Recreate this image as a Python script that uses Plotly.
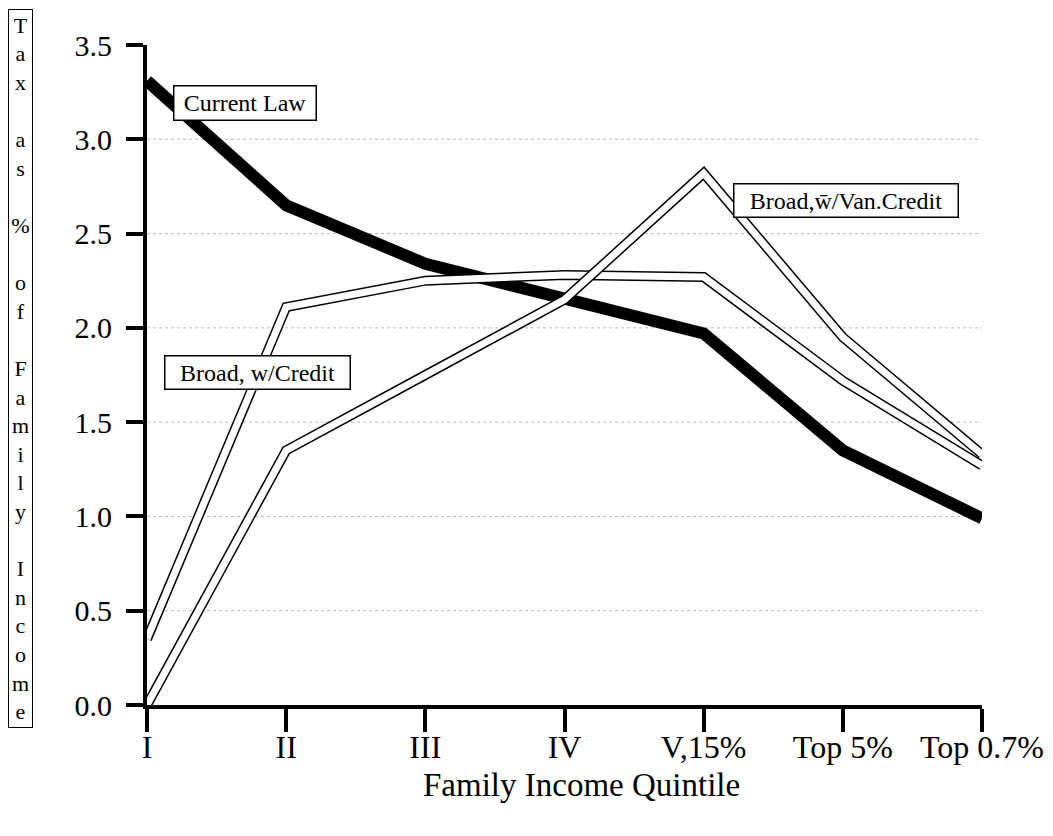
import plotly.graph_objects as go

categories = ["I", "II", "III", "IV", "V,15%", "Top 5%", "Top 0.7%"]
current_law = [3.31, 2.65, 2.34, 2.15, 1.97, 1.35, 0.99]
broad_credit = [0.35, 2.11, 2.25, 2.28, 2.27, 1.72, 1.27]
broad_van = [0.0, 1.35, 1.75, 2.15, 2.82, 1.95, 1.33]
y_ticks = [0.0, 0.5, 1.0, 1.5, 2.0, 2.5, 3.0, 3.5]
grid_vals = [0.5, 1.0, 1.5, 2.0, 2.5, 3.0]

FONT = "Liberation Serif"
OFF = 8  # default page body margin
W, H = 1053 - OFF, 836 - OFF
# plot area in screen pixels
SX0, SX1, SY0, SY1 = 147, 982, 45, 705
L, R = SX0 - OFF, W - (SX1 - OFF)
T, B = SY0 - OFF, H - (SY1 - OFF)
PW, PH = SX1 - SX0, SY1 - SY0


def px(x):
    return (x - SX0) / PW


def py(y):
    return (SY1 - y) / PH


fig = go.Figure()

fig.add_trace(go.Scatter(x=categories, y=current_law, mode="lines",
                         line=dict(color="black", width=12), hoverinfo="skip",
                         showlegend=False))
for series in (broad_credit, broad_van):
    fig.add_trace(go.Scatter(x=categories, y=series, mode="lines",
                             line=dict(color="black", width=10), hoverinfo="skip",
                             showlegend=False))
    fig.add_trace(go.Scatter(x=categories, y=series, mode="lines",
                             line=dict(color="white", width=7), hoverinfo="skip",
                             showlegend=False))

shapes = []
for g in grid_vals:
    shapes.append(dict(type="line", xref="paper", yref="y", x0=0, x1=1, y0=g, y1=g,
                       line=dict(color="#b8b8b8", width=1, dash="dot"), layer="below"))

labels = [
    ("Current Law", 244.5, 102.5, 141, 33),
    ("Broad, w/Credit", 257, 372, 184, 32),
    ("Broad,w\u0304/Van.Credit", 845.5, 200, 223, 32),
]
annotations = []
for text, cx, cy, w, h in labels:
    annotations.append(dict(text=text, xref="paper", yref="paper", x=px(cx), y=py(cy),
                            xanchor="center", yanchor="middle", showarrow=False,
                            font=dict(family=FONT, size=24, color="black"),
                            bgcolor="white", bordercolor="black", borderwidth=1.5,
                            borderpad=0, width=w, height=h))

ytitle = "Tax as % of Family Income"
ytitle_html = "<br>".join(ch if ch != " " else "\u00a0" for ch in ytitle)
annotations.append(dict(text=ytitle_html, xref="paper", yref="paper",
                        x=px(20), y=py(368.5), xanchor="center", yanchor="middle",
                        showarrow=False, font=dict(family=FONT, size=22, color="black"),
                        bgcolor="white", bordercolor="black", borderwidth=1,
                        borderpad=0, width=23, height=717, align="center"))

annotations.append(dict(text="Family Income Quintile", xref="paper", yref="paper",
                        x=px(581), y=py(785), xanchor="center", yanchor="middle",
                        showarrow=False, font=dict(family=FONT, size=33, color="black")))

fig.update_layout(
    width=W, height=H,
    margin=dict(l=L, r=R, t=T, b=B, autoexpand=False),
    paper_bgcolor="white", plot_bgcolor="white",
    font=dict(family=FONT, color="black"),
    shapes=shapes, annotations=annotations,
    hovermode=False,
    xaxis=dict(type="category", range=[0, 6], showgrid=False, zeroline=False,
               automargin=False,
               showline=True, linecolor="black", linewidth=4,
               ticks="outside", ticklen=23, tickwidth=4, tickcolor="black",
               tickfont=dict(family=FONT, size=32), ticklabelstandoff=-12),
    yaxis=dict(range=[0, 3.5], tickvals=y_ticks, tickformat=".1f",
               showgrid=False, zeroline=False, automargin=False,
               showline=True, linecolor="black", linewidth=4,
               ticks="outside", ticklen=17, tickwidth=4, tickcolor="black",
               tickfont=dict(family=FONT, size=30), ticklabelstandoff=8),
)

fig.write_html("out.html")
